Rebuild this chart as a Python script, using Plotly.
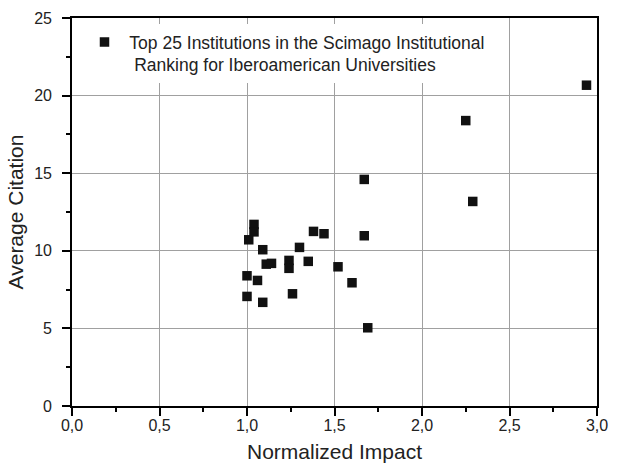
import plotly.graph_objects as go

normalized_impact = [1.04, 1.04, 1.01, 1.09, 1.30, 1.38, 1.44, 1.67, 1.67, 1.11, 1.14,
                     1.24, 1.24, 1.35, 1.52, 1.60, 1.00, 1.06, 1.00, 1.09, 1.26, 1.69,
                     2.94, 2.25, 2.29]
average_citation = [11.70, 11.22, 10.71, 10.07, 10.22, 11.25, 11.10, 10.97, 14.60, 9.14, 9.19,
                    9.38, 8.87, 9.32, 8.97, 7.94, 8.39, 8.09, 7.06, 6.68, 7.23, 5.04,
                    20.67, 18.39, 13.18]
series_name = ("\u00a0Top 25 Institutions in the Scimago Institutional<br>"
               "\u00a0\u00a0Ranking for Iberoamerican Universities")

fig = go.Figure()
fig.add_trace(go.Scatter(
    x=normalized_impact, y=average_citation, mode="markers", name=series_name,
    marker=dict(symbol="square", size=9.5, color="#111111", line=dict(width=0)),
    showlegend=True,
))

axis_common = dict(
    showline=True, linecolor="black", linewidth=1.7, mirror=True,
    ticks="outside", ticklen=8, tickwidth=1.7, tickcolor="black",
    showgrid=True, gridcolor="#a0a0a0", gridwidth=1, zeroline=False,
    tickfont=dict(size=16, color="#222222"),
    automargin=False,
)

fig.update_xaxes(range=[0, 3], dtick=0.5, tick0=0, tickformat=".1f",
                 ticklabelstandoff=-4,
                 minor=dict(dtick=0.25, ticks="outside", ticklen=4.5, tickwidth=1.5,
                            tickcolor="black", showgrid=False),
                 title=dict(text="Normalized Impact", font=dict(size=21, color="#222222"), standoff=16),
                 **axis_common)
fig.update_yaxes(range=[0, 25], dtick=5, tick0=0,
                 ticklabelstandoff=7,
                 minor=dict(dtick=2.5, ticks="outside", ticklen=4.5, tickwidth=1.5,
                            tickcolor="black", showgrid=False),
                 title=dict(text="Average Citation", font=dict(size=21, color="#222222"), standoff=5),
                 **axis_common)

fig.update_layout(
    template="none",
    width=618, height=463,
    margin=dict(l=72, r=21, t=18, b=57),
    separators=",.",
    paper_bgcolor="white", plot_bgcolor="white",
    font=dict(family="Liberation Sans, Arial, sans-serif", color="#222222"),
    showlegend=True,
    legend=dict(x=(84.5 - 72) / 525, y=1 - (24 - 18) / 388, xanchor="left", yanchor="top",
                bgcolor="white", borderwidth=0, valign="top",
                font=dict(size=17.5, color="#222222"), itemwidth=30),
)

fig.write_html("out.html")
